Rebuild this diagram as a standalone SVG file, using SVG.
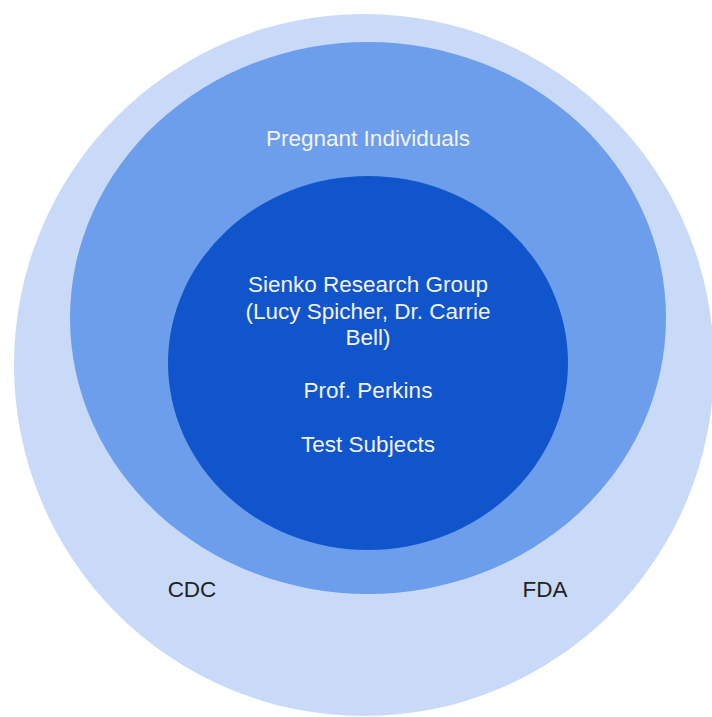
<svg xmlns="http://www.w3.org/2000/svg" width="712" height="717" viewBox="0 0 712 717">
  <style>
    .lbl { font-family: "Liberation Sans", Arial, sans-serif; font-size: 22.5px; text-anchor: middle; }
    .light { fill: #f3f3f3; }
    .dark { fill: #222222; }
  </style>
  <rect width="712" height="717" fill="#ffffff"/>
  <g id="outer">
    <ellipse cx="364" cy="365" rx="350" ry="351" fill="#c9daf8"/>
    <text class="lbl dark" x="192" y="597">CDC</text>
    <text class="lbl dark" x="545" y="597">FDA</text>
  </g>
  <g id="middle">
    <ellipse cx="368" cy="318" rx="298" ry="276" fill="#6d9eeb"/>
    <text class="lbl light" x="368" y="146">Pregnant Individuals</text>
  </g>
  <g id="inner">
    <ellipse cx="368" cy="363" rx="200" ry="187" fill="#1155cc"/>
    <text class="lbl light" x="368" y="292">Sienko Research Group</text>
    <text class="lbl light" x="368" y="319">(Lucy Spicher, Dr. Carrie</text>
    <text class="lbl light" x="368" y="345">Bell)</text>
    <text class="lbl light" x="368" y="398">Prof. Perkins</text>
    <text class="lbl light" x="368" y="452">Test Subjects</text>
  </g>
  <g id="connectors"/>
</svg>
